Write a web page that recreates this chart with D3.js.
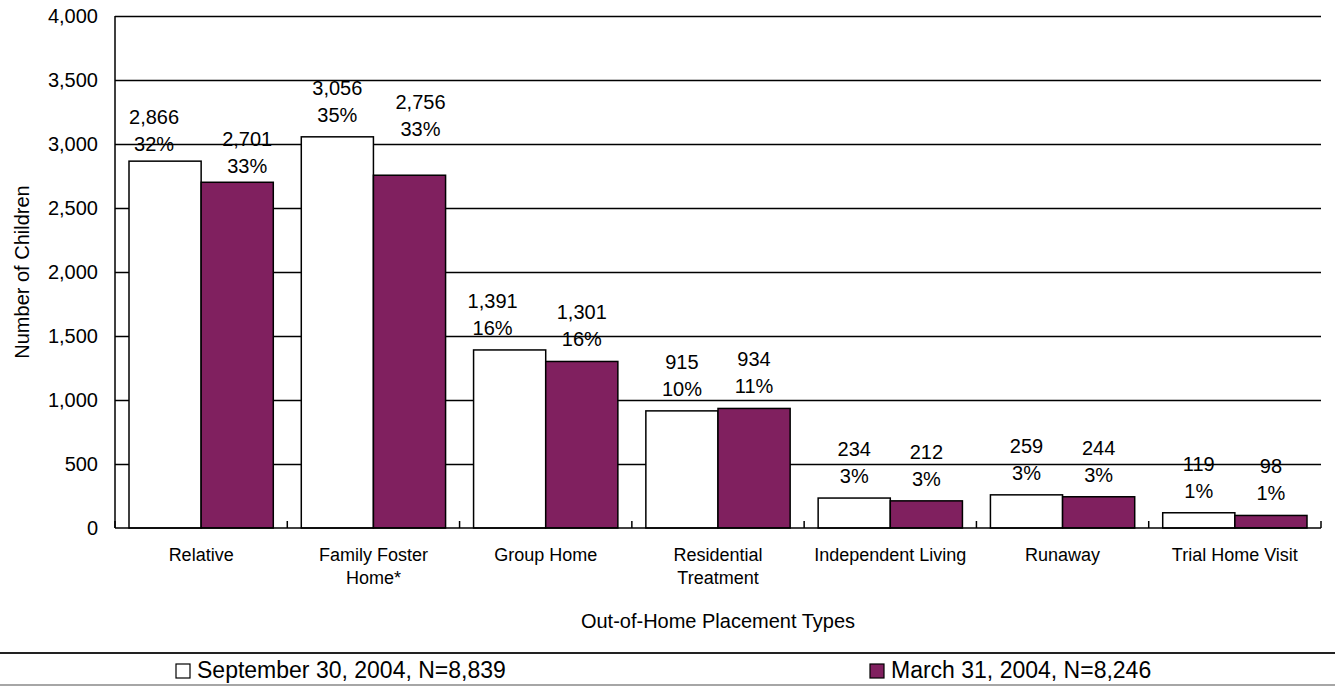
<!DOCTYPE html>
<html><head><meta charset="utf-8">
<script src="https://cdn.jsdelivr.net/npm/d3@7"></script>
<style>
body{margin:0;background:#fff}
svg text{font-family:"Liberation Sans",Arial,sans-serif;fill:#000}
</style>
</head><body>
<svg id="c" width="1335" height="686"></svg>
<script>
// ---- data ----
const categories = ["Relative","Family Foster Home*","Group Home","Residential Treatment","Independent Living","Runaway","Trial Home Visit"];
const categoryLines = [["Relative"],["Family Foster","Home*"],["Group Home"],["Residential","Treatment"],["Independent Living"],["Runaway"],["Trial Home Visit"]];
const seriesNames = ["September 30, 2004, N=8,839","March 31, 2004, N=8,246"];
const sep2004 = [2866,3056,1391,915,234,259,119];
const mar2004 = [2701,2756,1301,934,212,244,98];
const sepPct = [32,35,16,10,3,3,1];
const marPct = [33,33,16,11,3,3,1];
const yTicks = [0,500,1000,1500,2000,2500,3000,3500,4000];
const xTitle = "Out-of-Home Placement Types";
const yTitle = "Number of Children";

// label nudges (layout only)
const nudges = {"0-0":[-11,5],"0-2":[-17,0],"1-0":[10,6],"1-1":[11,-24]};
const colors = ["#ffffff","#80205f"];

const svg = d3.select("#c");
const L = 115, R = 1321, T = 16, B = 528;
const x0 = d3.scaleBand().domain(categories).range([L,R]).padding(0);
const bw = x0.bandwidth();
const x1 = d3.scaleBand().domain([0,1]).range([14, bw-14]).padding(0);
const y = d3.scaleLinear().domain([0,4000]).range([B,T]);

// gridlines
const grid = svg.append("g").attr("transform",`translate(${L},0)`)
  .call(d3.axisRight(y).tickValues(yTicks.filter(d=>d>0)).tickSize(R-L).tickFormat(""));
grid.select(".domain").remove();
grid.selectAll("line").attr("stroke","#000").attr("stroke-width",1.5);

// y axis labels
const ya = svg.append("g").attr("transform",`translate(${L},0)`)
  .call(d3.axisLeft(y).tickValues(yTicks).tickSize(0).tickPadding(17).tickFormat(d3.format(",")));
ya.select(".domain").remove();
ya.selectAll("text").style("font-size","20px").attr("fill","#000").style("font-family","'Liberation Sans',Arial,sans-serif");

// bars
const rows = categories.map((c,i)=>({c,i,vals:[sep2004[i],mar2004[i]],pcts:[sepPct[i],marPct[i]]}));
const g = svg.append("g");
const grp = g.selectAll("g.cat").data(rows).join("g").attr("transform",d=>`translate(${x0(d.c)},0)`);
grp.selectAll("rect").data(d=>d.vals.map((v,s)=>({v,s}))).join("rect")
  .attr("x",d=>x1(d.s)).attr("width",x1.bandwidth())
  .attr("y",d=>y(d.v)).attr("height",d=>B-y(d.v))
  .attr("fill",d=>colors[d.s]).attr("stroke","#000").attr("stroke-width",1.5);

// axes lines
svg.append("line").attr("x1",L).attr("x2",L).attr("y1",T).attr("y2",B).attr("stroke","#000").attr("stroke-width",1.5);
svg.append("line").attr("x1",L).attr("x2",R).attr("y1",B).attr("y2",B).attr("stroke","#000").attr("stroke-width",1.5);
const bounds = categories.map(c=>x0(c)).concat([R]);
svg.selectAll("line.xt").data(bounds).join("line").attr("class","xt")
  .attr("x1",d=>d).attr("x2",d=>d).attr("y1",B).attr("y2",B-7).attr("stroke","#000").attr("stroke-width",1.5);

// data labels
grp.each(function(d){
  const gg = d3.select(this);
  d.vals.forEach((v,s)=>{
    const nd = nudges[s+"-"+d.i] || [0,0];
    const cx = x1(s)+x1.bandwidth()/2+nd[0];
    const top = y(v)+nd[1];
    gg.append("text").attr("x",cx).attr("y",top-42).attr("text-anchor","middle").style("font-size","20px").text(d3.format(",")(v));
    gg.append("text").attr("x",cx).attr("y",top-15).attr("text-anchor","middle").style("font-size","20px").text(d.pcts[s]+"%");
  });
});

// category labels
grp.each(function(d){
  const t = d3.select(this).append("text").attr("text-anchor","middle").style("font-size","18px");
  categoryLines[d.i].forEach((ln,k)=>{
    t.append("tspan").attr("x",bw/2).attr("y",561+k*23).text(ln);
  });
});

// titles
svg.append("text").attr("x",(L+R)/2).attr("y",628).attr("text-anchor","middle").style("font-size","20px").text(xTitle);
svg.append("text").attr("transform",`translate(29,${(T+B)/2}) rotate(-90)`).attr("text-anchor","middle").style("font-size","20px").text(yTitle);

// legend
svg.append("line").attr("x1",0).attr("x2",1335).attr("y1",653).attr("y2",653).attr("stroke","#222").attr("stroke-width",2);
svg.append("line").attr("x1",0).attr("x2",1335).attr("y1",685).attr("y2",685).attr("stroke","#888").attr("stroke-width",1.5);
const legX = [176,870];
seriesNames.forEach((n,s)=>{
  svg.append("rect").attr("x",legX[s]).attr("y",664).attr("width",14).attr("height",14)
    .attr("fill",colors[s]).attr("stroke","#000").attr("stroke-width",1.2);
  svg.append("text").attr("x",legX[s]+21).attr("y",678).style("font-size","23px").text(n);
});
</script>
</body></html>
